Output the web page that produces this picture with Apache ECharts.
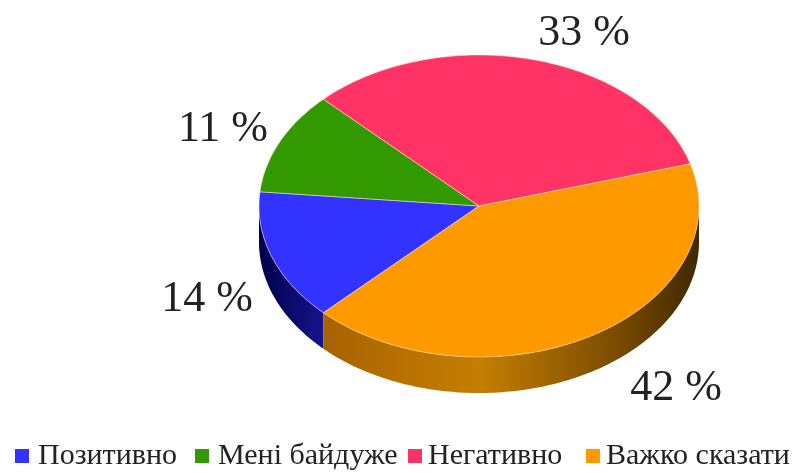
<!DOCTYPE html>
<html>
<head>
<meta charset="utf-8">
<style type="text/css">
    html,body{
        margin:0;
        padding:0;
        background:#fff;
    }
    #chart{
        width:793px;
        height:473px;
    }
</style>
<script src="https://cdn.jsdelivr.net/npm/echarts@6/dist/echarts.min.js"></script>
</head>
<body>
<div id="chart"></div>
<script type="text/javascript">
    // дані діаграми
    var categories = ['Позитивно', 'Мені байдуже', 'Негативно', 'Важко сказати'];
    var percents = [14, 11, 33, 42];
    var colors = ['#3333ff', '#339900', '#ff3366', '#ff9900'];

    // геометрія "об'ємного" круга
    var cx = 479, cy = 206, rx = 220, ry = 151, depth = 36;
    var startAngle = 135;
    var labelCenters = [[207, 299], [223, 129], [584, 33], [676, 388]];
    var legendLefts = [15, 195, 408, 586];
    var legendTextGaps = [4, 4, 1, 1];
    var sideStops = [
        [[0, '#00004a'], [1, '#15158c']],
        [[0, '#0c3300'], [1, '#226600']],
        [[0, '#661a33'], [1, '#a32244']],
        [[0, '#a66200'], [0.2, '#b87000'], [0.42, '#c47e00'], [0.78, '#7a4c00'], [1, '#402800']]
    ];

    var total = percents.reduce(function(a, b){ return a + b; }, 0);

    function angleBefore(index){
        var sum = 0;
        for(var i = 0; i < index; i++){
            sum += percents[i];
        }
        return startAngle + sum / total * 360;
    }

    function ellipsePoint(deg, dy){
        var rad = deg * Math.PI / 180;
        return [cx + rx * Math.cos(rad), cy + ry * Math.sin(rad) + dy];
    }

    function arcPoints(from, to, dy){
        var points = [];
        var steps = Math.max(2, Math.ceil(Math.abs(to - from)));
        for(var i = 0; i <= steps; i++){
            points.push(ellipsePoint(from + (to - from) * i / steps, dy));
        }
        return points;
    }

    // бічна стінка видима лише на нижній половині еліпса
    function sidePoints(from, to){
        var parts = [];
        [[0, 180], [360, 540]].forEach(function(range){
            var a = Math.max(from, range[0]);
            var b = Math.min(to, range[1]);
            if(b > a){
                parts.push(arcPoints(a, b, 0).concat(arcPoints(b, a, depth)));
            }
        });
        return parts;
    }

    function sliceSeries(index){
        return {
            name: categories[index],
            type: 'custom',
            coordinateSystem: 'none',
            silent: true,
            itemStyle: {color: colors[index]},
            data: [[percents[index]]],
            renderItem: function(params, api){
                var from = angleBefore(index);
                var to = from + api.value(0) / total * 360;
                var children = [];
                sidePoints(from, to).forEach(function(points){
                    var xs = points.map(function(p){ return p[0]; });
                    children.push({
                        type: 'polygon',
                        shape: {points: points},
                        style: {
                            fill: new echarts.graphic.LinearGradient(
                                Math.min.apply(null, xs), 0, Math.max.apply(null, xs), 0, sideStops[index].map(function(s){
                                    return {offset: s[0], color: s[1]};
                                }), true)
                        }
                    });
                });
                children.push({
                    type: 'polygon',
                    shape: {points: [[cx, cy]].concat(arcPoints(from, to, 0))},
                    style: {fill: colors[index], stroke: 'rgba(255,225,190,0.55)', lineWidth: 1}
                });
                children.push({
                    type: 'text',
                    style: {
                        text: api.value(0) + ' %',
                        x: labelCenters[index][0],
                        y: labelCenters[index][1],
                        align: 'center',
                        verticalAlign: 'middle',
                        font: '44px "Liberation Serif", serif',
                        fill: '#222'
                    }
                });
                return {type: 'group', children: children};
            }
        };
    }

    var chart = echarts.init(document.getElementById('chart'));
    chart.setOption({
        animation: false,
        backgroundColor: '#fff',
        legend: categories.map(function(name, i){
            return {
                data: [name],
                left: legendLefts[i],
                top: 441,
                padding: 0,
                icon: 'rect',
                itemWidth: 14,
                itemHeight: 14,
                itemGap: 0,
                selectedMode: false,
                textStyle: {
                    fontFamily: '"Liberation Serif", serif',
                    fontSize: 30,
                    color: '#222',
                    padding: [0, 0, 0, legendTextGaps[i]]
                }
            };
        }),
        series: categories.map(function(name, i){
            return sliceSeries(i);
        })
    });
    window.onresize = chart.resize;
</script>
</body>
</html>
